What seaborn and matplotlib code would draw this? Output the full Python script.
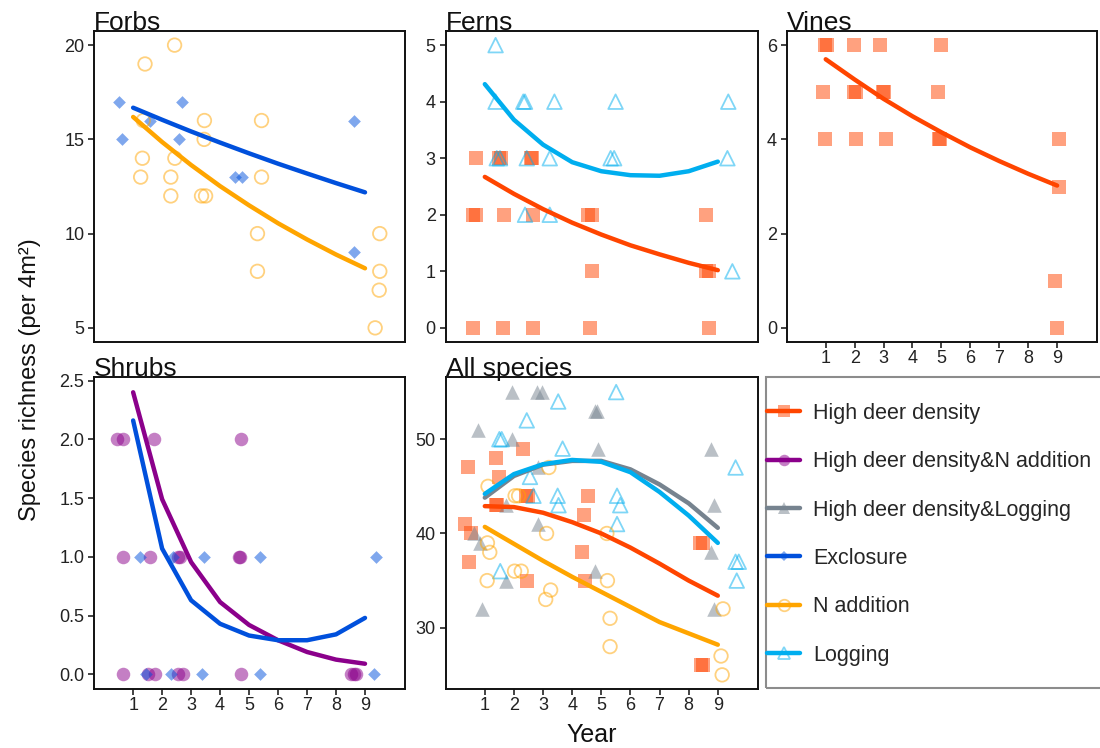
import pandas as pd
import matplotlib
matplotlib.use("Agg")
import matplotlib.pyplot as plt
import seaborn as sns
from matplotlib.lines import Line2D
from matplotlib.patches import Rectangle

years = [1, 2, 3, 4, 5, 6, 7, 8, 9]

# Forbs
forbs_excl_x = [0.52, 0.61, 1.58, 2.67, 2.59, 4.53, 4.74, 8.62, 8.63]
forbs_excl_y = [17, 15, 16, 17, 15, 13, 13, 16, 9]
forbs_nadd_x = [2.43, 1.41, 1.35, 3.46, 5.43, 3.45, 1.32, 2.44, 1.26, 2.30,
                5.43, 2.30, 3.36, 3.50, 5.29, 5.29, 9.51, 9.51, 9.49, 9.35]
forbs_nadd_y = [20, 19, 16, 16, 16, 15, 14, 14, 13, 13, 13, 12, 12, 12, 10, 8, 10, 8, 7, 5]
forbs_excl_fit = [16.68, 16.04, 15.42, 14.83, 14.26, 13.71, 13.19, 12.68, 12.19]
forbs_nadd_fit = [16.19, 14.86, 13.64, 12.52, 11.50, 10.55, 9.69, 8.89, 8.16]

# Ferns
ferns_hdd_x = [0.69, 1.48, 1.55, 2.57, 2.62, 0.60, 0.69, 1.65, 2.64, 4.56,
               4.67, 8.58, 4.69, 8.58, 8.69, 0.60, 1.61, 2.64, 4.62, 8.69]
ferns_hdd_y = [3, 3, 3, 3, 3, 2, 2, 2, 2, 2, 2, 2, 1, 1, 1, 0, 0, 0, 0, 0]
ferns_log_x = [1.37, 1.37, 2.32, 2.38, 3.39, 5.49, 9.36, 1.41, 1.52, 2.44,
               3.23, 5.32, 5.44, 9.33, 2.38, 3.23, 9.50]
ferns_log_y = [5, 4, 4, 4, 4, 4, 4, 3, 3, 3, 3, 3, 3, 3, 2, 2, 1]
ferns_hdd_fit = [2.67, 2.37, 2.10, 1.86, 1.65, 1.46, 1.30, 1.15, 1.02]
ferns_log_fit = [4.31, 3.68, 3.24, 2.93, 2.77, 2.70, 2.69, 2.77, 2.94]

# Vines
vines_hdd_x = [0.96, 1.04, 1.97, 2.89, 4.99, 0.91, 1.96, 2.03, 2.97, 3.03,
               4.89, 0.96, 2.06, 3.08, 4.90, 4.96, 9.06, 9.08, 8.93, 8.99]
vines_hdd_y = [6, 6, 6, 6, 6, 5, 5, 5, 5, 5, 5, 4, 4, 4, 4, 4, 4, 3, 1, 0]
vines_hdd_fit = [5.70, 5.27, 4.86, 4.49, 4.15, 3.83, 3.54, 3.27, 3.02]

# Shrubs
shrubs_hddn_x = [0.43, 0.66, 1.72, 4.71, 0.66, 1.57, 2.55, 2.61, 4.66, 4.70,
                 0.66, 1.52, 1.75, 2.55, 2.72, 4.71, 8.53, 8.62, 8.70]
shrubs_hddn_y = [2, 2, 2, 2, 1, 1, 1, 1, 1, 1, 0, 0, 0, 0, 0, 0, 0, 0, 0]
shrubs_excl_x = [1.25, 2.38, 3.44, 5.39, 9.37, 1.46, 2.32, 3.36, 5.39, 9.30]
shrubs_excl_y = [1, 1, 1, 1, 1, 0, 0, 0, 0, 0]
shrubs_hddn_fit = [2.40, 1.49, 0.955, 0.615, 0.42, 0.29, 0.19, 0.125, 0.09]
shrubs_excl_fit = [2.16, 1.07, 0.63, 0.43, 0.33, 0.29, 0.29, 0.34, 0.48]

# All species
all_hdd_x = [0.43, 0.31, 0.52, 0.46, 1.38, 1.49, 1.37, 1.43, 2.32, 2.40,
             2.47, 2.44, 4.54, 4.42, 4.35, 4.44, 8.40, 8.49, 8.42, 8.48]
all_hdd_y = [47, 41, 40, 37, 48, 46, 43, 43, 49, 44, 44, 35, 44, 42, 38, 35, 39, 39, 26, 26]
all_hddlog_x = [0.77, 0.62, 0.83, 0.92, 1.92, 1.92, 1.72, 1.72, 2.78, 2.95,
                2.84, 2.81, 4.78, 4.84, 4.90, 4.79, 8.77, 8.86, 8.77, 8.86]
all_hddlog_y = [51, 40, 39, 32, 55, 50, 43, 35, 55, 55, 47, 41, 53, 53, 49, 36, 49, 43, 38, 32]
all_log_x = [1.50, 1.58, 1.53, 2.44, 2.55, 2.67, 3.52, 3.50, 3.53, 3.67,
             5.51, 5.54, 5.65, 5.54, 9.61, 9.61, 9.72, 9.65]
all_log_y = [50, 50, 36, 52, 46, 44, 54, 44, 43, 49, 55, 44, 43, 41, 47, 37, 37, 35]
all_nadd_x = [1.11, 1.09, 1.17, 1.08, 2.04, 2.16, 2.02, 2.25, 3.20, 3.12,
              3.09, 3.26, 5.19, 5.21, 5.30, 5.30, 9.18, 9.11, 9.15]
all_nadd_y = [45, 39, 38, 35, 44, 44, 36, 36, 47, 40, 33, 34, 40, 35, 31, 28, 32, 27, 25]
all_hdd_fit = [42.9, 42.8, 42.2, 41.2, 40.0, 38.5, 36.8, 35.0, 33.4]
all_hddlog_fit = [43.8, 46.1, 47.3, 47.7, 47.7, 46.8, 45.2, 43.2, 40.6]
all_log_fit = [44.2, 46.3, 47.35, 47.8, 47.6, 46.5, 44.4, 41.9, 39.0]
all_nadd_fit = [40.7, 38.9, 37.1, 35.4, 33.8, 32.2, 30.6, 29.4, 28.2]

treatments = ["High deer density", "High deer density&N addition",
              "High deer density&Logging", "Exclosure", "N addition", "Logging"]

# treatment -> (line colour, marker, filled, marker size)
style = {
    "High deer density": ("#FF4500", "s", True, 88),
    "High deer density&N addition": ("#8B008B", "o", True, 95),
    "High deer density&Logging": ("#76838F", "^", True, 110),
    "Exclosure": ("#0050DC", "D", True, 42),
    "N addition": ("#FFA500", "o", False, 95),
    "Logging": ("#00AEEF", "^", False, 110),
}

sns.set_style("white")
plt.rcParams["font.family"] = ["Liberation Sans", "DejaVu Sans"]

W, H = 1100, 748
fig = plt.figure(figsize=(11, 7.48), dpi=100)


def box(l, t, r, b):
    return [l / W, 1 - b / H, (r - l) / W, (b - t) / H]


def add_points(ax, x, y, trt):
    col, mk, filled, sz = style[trt]
    df = pd.DataFrame({"x": x, "y": y})
    if filled:
        sns.scatterplot(data=df, x="x", y="y", ax=ax, color=col, marker=mk, s=sz,
                        alpha=0.5, linewidth=0, zorder=2)
    else:
        sns.scatterplot(data=df, x="x", y="y", ax=ax, color=col, marker=mk, s=sz,
                        facecolor="none", edgecolor=col, linewidth=1.3, alpha=0.5, zorder=2)


def add_fit(ax, fit, trt):
    col = style[trt][0]
    df = pd.DataFrame({"Year": years, "fit": fit})
    sns.lineplot(data=df, x="Year", y="fit", ax=ax, color=col, lw=3.2, zorder=3)


def finish(ax, title, yticks, ylim, xlabels, fmt=None):
    ax.set_xlim(-0.35, 10.38)
    ax.set_ylim(*ylim)
    ax.set_yticks(yticks)
    if fmt:
        ax.set_yticklabels([fmt % v for v in yticks])
    ax.set_xlabel("")
    ax.set_ylabel("")
    if xlabels:
        ax.set_xticks(years)
        ax.tick_params(axis="x", bottom=True, length=4, width=1.2, labelsize=13,
                       colors="#222222", pad=2)
    else:
        ax.set_xticks([])
    ax.tick_params(axis="y", left=True, length=4, width=1.2, labelsize=13,
                   colors="#222222", pad=3)
    for sp in ax.spines.values():
        sp.set_color("#111111")
        sp.set_linewidth(1.4)
    ax.set_title(title, loc="left", fontsize=19, y=1.0, pad=1, color="#111111")


ax = fig.add_axes(box(94, 31, 405, 342))
add_points(ax, forbs_excl_x, forbs_excl_y, "Exclosure")
add_points(ax, forbs_nadd_x, forbs_nadd_y, "N addition")
add_fit(ax, forbs_excl_fit, "Exclosure")
add_fit(ax, forbs_nadd_fit, "N addition")
finish(ax, "Forbs", [5, 10, 15, 20], (4.25, 20.75), False)

ax = fig.add_axes(box(445.5, 31, 758, 342))
add_points(ax, ferns_hdd_x, ferns_hdd_y, "High deer density")
add_points(ax, ferns_log_x, ferns_log_y, "Logging")
add_fit(ax, ferns_hdd_fit, "High deer density")
add_fit(ax, ferns_log_fit, "Logging")
finish(ax, "Ferns", [0, 1, 2, 3, 4, 5], (-0.25, 5.25), False)

ax = fig.add_axes(box(786.7, 31, 1097, 342))
add_points(ax, vines_hdd_x, vines_hdd_y, "High deer density")
add_fit(ax, vines_hdd_fit, "High deer density")
finish(ax, "Vines", [0, 2, 4, 6], (-0.3, 6.3), True)

ax = fig.add_axes(box(94, 377, 405, 689))
add_points(ax, shrubs_hddn_x, shrubs_hddn_y, "High deer density&N addition")
add_points(ax, shrubs_excl_x, shrubs_excl_y, "Exclosure")
add_fit(ax, shrubs_hddn_fit, "High deer density&N addition")
add_fit(ax, shrubs_excl_fit, "Exclosure")
finish(ax, "Shrubs", [0, 0.5, 1, 1.5, 2, 2.5], (-0.125, 2.53), True, fmt="%.1f")

ax = fig.add_axes(box(445.5, 377, 758, 689))
add_points(ax, all_hdd_x, all_hdd_y, "High deer density")
add_points(ax, all_hddlog_x, all_hddlog_y, "High deer density&Logging")
add_points(ax, all_log_x, all_log_y, "Logging")
add_points(ax, all_nadd_x, all_nadd_y, "N addition")
add_fit(ax, all_hdd_fit, "High deer density")
add_fit(ax, all_nadd_fit, "N addition")
add_fit(ax, all_hddlog_fit, "High deer density&Logging")
add_fit(ax, all_log_fit, "Logging")
finish(ax, "All species", [30, 40, 50], (23.5, 56.6), True)

# legend
handles = []
for trt in treatments:
    col, mk, filled, sz = style[trt]
    ln = Line2D([], [], color=col, lw=3.2)
    if filled:
        pt = Line2D([], [], ls="none", marker=mk, markersize=sz ** 0.5 * 0.85,
                    color=col, alpha=0.5, markeredgewidth=0)
    else:
        pt = Line2D([], [], ls="none", marker=mk, markersize=sz ** 0.5 * 0.85,
                    markerfacecolor="none", markeredgecolor=col, alpha=0.5,
                    markeredgewidth=1.3)
    handles.append((ln, pt))

fig.legend(handles, treatments, loc="upper left",
           bbox_to_anchor=((766 - 25) / W, 1 - 377 / H), frameon=False,
           fontsize=15.5, handlelength=1.55, handletextpad=0.6,
           labelspacing=1.27, borderpad=1.2, borderaxespad=0)
fig.patches.append(Rectangle((766 / W, 1 - 688 / H), 0.4, (688 - 377) / H,
                             transform=fig.transFigure, fill=False,
                             edgecolor="#8c8c8c", lw=1.5))

fig.text(30 / W, 1 - 380 / H, "Species richness (per 4m²)", rotation=90,
         ha="center", va="center", fontsize=17, color="#111111")
fig.text(592 / W, 1 - 735 / H, "Year", ha="center", va="center",
         fontsize=18, color="#111111")

fig.savefig("out.png", dpi=100)
